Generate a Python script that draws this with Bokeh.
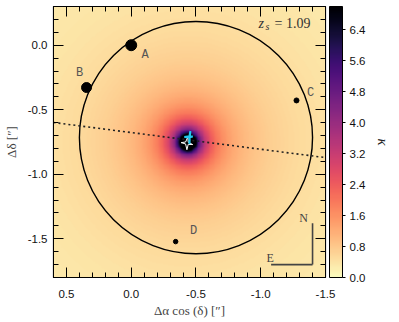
import numpy as np
from bokeh.plotting import figure
from bokeh.models import (Range1d, LinearAxis, FixedTicker, ColorBar, LinearColorMapper,
                          Label, ColumnDataSource, PrintfTickFormatter, CustomJSTickFormatter)
from bokeh.palettes import magma
from bokeh.core.properties import value
from bokeh.embed import file_html
from bokeh.resources import INLINE

# ---------------- data ----------------
x_limits = [0.6, -1.5]
y_limits = [-1.8, 0.3]
x_major = [0.5, 0.0, -0.5, -1.0, -1.5]
x_minor = [0.6, 0.4, 0.3, 0.2, 0.1, -0.1, -0.2, -0.3, -0.4, -0.6, -0.7, -0.8, -0.9,
           -1.1, -1.2, -1.3, -1.4]
y_major = [0.0, -0.5, -1.0, -1.5]
y_minor = [0.3, 0.2, 0.1, -0.1, -0.2, -0.3, -0.4, -0.6, -0.7, -0.8, -0.9,
           -1.1, -1.2, -1.3, -1.4, -1.6, -1.7, -1.8]
cbar_ticks = [0.0, 0.8, 1.6, 2.4, 3.2, 4.0, 4.8, 5.6, 6.4]
kappa_max = 7.0

image_names = ["A", "B", "C", "D"]
image_x = [0.0, 0.345, -1.276, -0.343]
image_y = [0.0, -0.328, -0.428, -1.522]

lens_x = -0.437
lens_y = -0.752
theta_E = 0.9
core = 0.01

crit_x = -0.50
crit_y = -0.716
crit_w = 1.80
crit_h = 1.80

pa_line_x = [0.6, -1.5]
pa_line_y = [-0.599, -0.871]

caustic_white_x = [-0.385, -0.42, -0.43, -0.44, -0.475, -0.44, -0.437, -0.42, -0.385]
caustic_white_y = [-0.755, -0.765, -0.81, -0.768, -0.77, -0.752, -0.71, -0.75, -0.755]
caustic_cyan_x = [-0.457, -0.453, -0.475, -0.452, -0.45, -0.449, -0.41, -0.449, -0.457]
caustic_cyan_y = [-0.665, -0.705, -0.708, -0.713, -0.765, -0.713, -0.712, -0.706, -0.665]

compass_x0 = -1.40
compass_y0 = -1.70
compass_len = 0.32

z_source = 1.09

# ---------------- styles ----------------
marker_sizes = [11, 10, 5, 4.5]
label_dx = [14, -7, 14, 18]
label_dy = [10, -15, -7, -11]
TICK_FONT = "Liberation Sans"
SERIF = "Liberation Serif"

# ---------------- kappa map ----------------
n = 320
xs = np.linspace(x_limits[1], x_limits[0], n)
ys = np.linspace(y_limits[0], y_limits[1], n)
X, Y = np.meshgrid(xs, ys)
R = np.sqrt((X - lens_x) ** 2 + (Y - lens_y) ** 2)
kappa = np.clip(theta_E / (2.0 * np.sqrt(R ** 2 + core ** 2)), 0, kappa_max)

palette = list(reversed(magma(256)))
mapper = LinearColorMapper(palette=palette, low=0.0, high=kappa_max)

p = figure(frame_width=272, frame_height=271,
           x_range=Range1d(*x_limits), y_range=Range1d(*y_limits),
           output_backend="svg", toolbar_location=None,
           min_border_left=45, min_border_top=6, min_border_bottom=38,
           min_border_right=66, background_fill_color="white")
p.grid.visible = False
p.outline_line_color = "black"
p.outline_line_width = 1.2

p.image(image=[kappa], x=x_limits[1], y=y_limits[0],
        dw=x_limits[0] - x_limits[1], dh=y_limits[1] - y_limits[0],
        color_mapper=mapper)

# critical curve
p.ellipse(x=crit_x, y=crit_y, width=crit_w, height=crit_h,
          fill_color=None, line_color="black", line_width=1.4)
# position angle line
p.line(pa_line_x, pa_line_y, line_color="#222222", line_width=1.6, line_dash="2 3")
# caustics
p.line(caustic_white_x, caustic_white_y, line_color="white", line_width=1.0)
p.line(caustic_cyan_x, caustic_cyan_y, line_color="#22C8EE", line_width=2.0)

# images
src = ColumnDataSource(dict(x=image_x, y=image_y, name=image_names,
                            size=marker_sizes, dx=label_dx, dy=label_dy))
p.scatter("x", "y", size="size", source=src, color="black")
p.text("x", "y", text="name", x_offset="dx", y_offset="dy", source=src,
       text_font=value("Liberation Mono"), text_font_size="12px",
       text_color="#555555", text_align="center", text_baseline="middle")

# compass
p.line([compass_x0, compass_x0], [compass_y0, compass_y0 + compass_len],
       line_color="#444444", line_width=1.6)
p.line([compass_x0, compass_x0 + compass_len], [compass_y0, compass_y0],
       line_color="#444444", line_width=1.6)
p.add_layout(Label(x=compass_x0, y=compass_y0 + compass_len, text="N", x_offset=-9,
                   y_offset=5, text_font=SERIF, text_font_size="12px", text_color="#444444",
                   text_align="center", text_baseline="middle"))
p.add_layout(Label(x=compass_x0 + compass_len, y=compass_y0, text="E", x_offset=-1,
                   y_offset=7, text_font=SERIF, text_font_size="12px", text_color="#444444",
                   text_align="center", text_baseline="middle"))

# redshift label
p.add_layout(Label(x=-0.983, y=0.17, text="z", text_font=SERIF, text_font_style="italic",
                   text_font_size="14px", text_color="#333333", text_baseline="alphabetic"))
p.add_layout(Label(x=-0.983, y=0.17, text="s", x_offset=7, y_offset=-3, text_font=SERIF,
                   text_font_style="italic", text_font_size="10px", text_color="#333333",
                   text_baseline="alphabetic"))
p.add_layout(Label(x=-0.983, y=0.17, text=f"= {z_source:.2f}", x_offset=16, text_font=SERIF,
                   text_font_size="14px", text_color="#333333", text_baseline="alphabetic"))

# axes
blank = CustomJSTickFormatter(code="return ''")

def style_axis(ax, major, minor, labels=True):
    ax.ticker = FixedTicker(ticks=major, minor_ticks=minor)
    ax.major_tick_in = 10
    ax.major_tick_out = 0
    ax.minor_tick_in = 5
    ax.minor_tick_out = 0
    ax.major_tick_line_color = "black"
    ax.minor_tick_line_color = "black"
    ax.axis_line_color = "black"
    if labels:
        ax.formatter = PrintfTickFormatter(format="%.1f")
        ax.major_label_text_font = TICK_FONT
        ax.major_label_text_font_size = "11.5px"
        ax.major_label_text_color = "#111111"
        ax.major_label_standoff = 12
        ax.axis_label_text_font = SERIF
        ax.axis_label_text_font_style = "normal"
        ax.axis_label_text_font_size = "13px"
        ax.axis_label_standoff = 2
    else:
        ax.formatter = blank
        ax.major_label_standoff = 0
        ax.axis_label = None

style_axis(p.xaxis[0], x_major, x_minor)
style_axis(p.yaxis[0], y_major, y_minor)
p.yaxis[0].major_label_standoff = 6
p.yaxis[0].axis_label_standoff = 6
p.xaxis[0].axis_label = "Δα cos (δ) [″]"
p.yaxis[0].axis_label = "Δδ [″]"

top_ax = LinearAxis()
style_axis(top_ax, x_major, x_minor, labels=False)
p.add_layout(top_ax, "above")
right_ax = LinearAxis()
style_axis(right_ax, y_major, y_minor, labels=False)
p.add_layout(right_ax, "right")

cb = ColorBar(color_mapper=mapper, ticker=FixedTicker(ticks=cbar_ticks),
              formatter=PrintfTickFormatter(format="%.1f"), width=13, height=271,
              padding=0, location=(4, 0), major_tick_in=0, major_tick_out=3,
              major_tick_line_color="black", bar_line_color="black",
              label_standoff=4, major_label_text_font=TICK_FONT,
              major_label_text_font_size="11.5px", major_label_text_color="#111111",
              background_fill_alpha=0)
p.add_layout(cb, "right")

# colour bar label as a tick-less axis beyond the colour bar
kappa_ax = LinearAxis(ticker=FixedTicker(ticks=[]), axis_line_color=None,
                      major_tick_line_color=None, minor_tick_line_color=None,
                      axis_label="κ", axis_label_text_font=SERIF,
                      axis_label_text_font_style="italic", axis_label_text_font_size="15px",
                      axis_label_text_color="#222222", axis_label_standoff=6)
p.add_layout(kappa_ax, "right")

open("out.html", "w").write(file_html(p, INLINE))
